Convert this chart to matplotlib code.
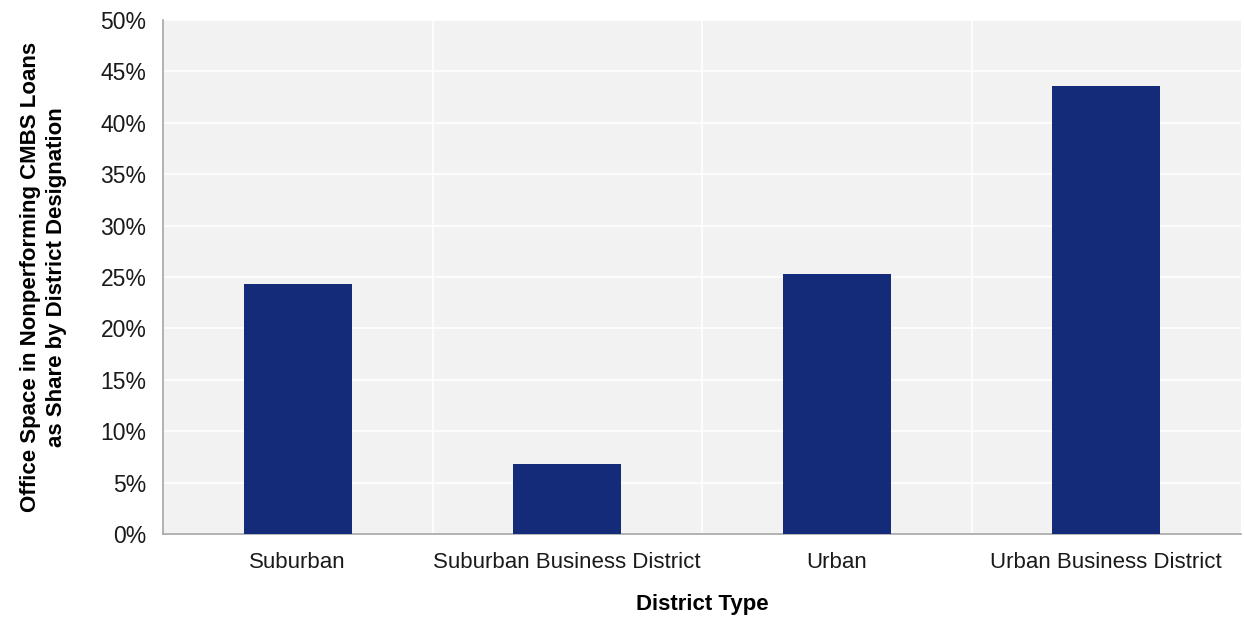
import numpy as np
import matplotlib.pyplot as plt
from matplotlib.ticker import PercentFormatter, MultipleLocator

# data
districts = ["Suburban", "Suburban Business District", "Urban", "Urban Business District"]
share = [24.3, 6.8, 25.3, 43.6]

plt.rcParams['font.family'] = ['Liberation Sans', 'DejaVu Sans']

fig = plt.figure(figsize=(12.44, 6.19), dpi=100)
ax = fig.add_axes([163/1244, 1 - 534/619, (1241-163)/1244, (534-20)/619])

x = np.arange(len(districts))
ax.bar(x, share, width=0.4, color='#142b7a', zorder=3)

ax.set_facecolor('#f2f2f2')
ax.set_xlim(-0.5, len(districts) - 0.5)
ax.set_ylim(0, 50)
ax.yaxis.set_major_locator(MultipleLocator(5))
ax.yaxis.set_major_formatter(PercentFormatter(decimals=0))
ax.grid(axis='y', color='white', linewidth=1.2, zorder=1)
# white separators between categories
ax.set_xticks(np.arange(len(districts) - 1) + 0.5, minor=True)
ax.grid(axis='x', which='minor', color='white', linewidth=1.2, zorder=1)

ax.set_xticks(x)
ax.set_xticklabels(districts, fontsize=16)
ax.tick_params(axis='y', labelsize=16.5, length=0, pad=12, colors='#1a1a1a')
ax.tick_params(axis='x', which='both', length=0, pad=13, colors='#1a1a1a')

for s in ['top', 'right']:
    ax.spines[s].set_visible(False)
for s in ['left', 'bottom']:
    ax.spines[s].set_color('#a6a6a6')
    ax.spines[s].set_linewidth(1.2)

ax.set_xlabel("District Type", fontsize=16, fontweight='bold', labelpad=15)
ax.set_ylabel("Office Space in Nonperforming CMBS Loans\nas Share by District Designation",
              fontsize=16, fontweight='bold', labelpad=24, linespacing=1.3)

fig.savefig("out.png", dpi=100)
